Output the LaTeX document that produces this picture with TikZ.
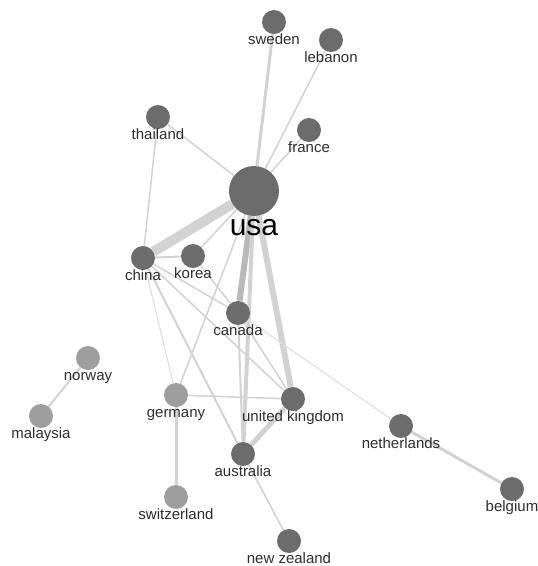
\documentclass[tikz,border=0pt]{standalone}
\usepackage{fontspec}
\setmainfont{Liberation Sans}
\usetikzlibrary{positioning}
\usetikzlibrary{backgrounds}
\usepackage{xcolor}
\definecolor{nodegray}{RGB}{108,108,108}
\definecolor{palegray}{RGB}{158,158,158}
\definecolor{linkgray}{RGB}{210,210,210}
\definecolor{faintgray}{RGB}{225,225,225}
\definecolor{darklink}{RGB}{185,185,185}
\definecolor{labelgray}{RGB}{45,45,45}

\begin{document}
\begin{tikzpicture}[x=1pt, y=-1pt,
    country/.style={circle, fill=nodegray, inner sep=0pt, minimum size=24pt},
    minor/.style={country, fill=palegray},
    lbl/.style={inner sep=0pt, text=labelgray, font=\fontsize{15}{17}\selectfont,
                text height=10.5pt, text depth=3pt},
    link/.style={draw=linkgray, line width=1.5pt}]
    \useasboundingbox (0,0) rectangle (538,566);

    % countries
    \draw node[country, minimum size=50pt] (usa) at (254,191) {};
    \draw node[country] (sweden) at (274,22) {};
    \draw node[country] (lebanon) at (331,40) {};
    \draw node[country] (thailand) at (158,117) {};
    \draw node[country] (france) at (309,130) {};
    \draw node[country] (china) at (143,258) {};
    \draw node[country] (korea) at (193,256) {};
    \draw node[country] (canada) at (238,313) {};
    \draw node[minor] (norway) at (88,358) {};
    \draw node[minor] (malaysia) at (41,416) {};
    \draw node[minor] (germany) at (176,395) {};
    \draw node[country] (uk) at (293,399) {};
    \draw node[country] (australia) at (243,454) {};
    \draw node[minor] (switzerland) at (176,497) {};
    \draw node[country] (nz) at (289,541) {};
    \draw node[country] (netherlands) at (401,426) {};
    \draw node[country] (belgium) at (512,489) {};

    % labels
    \draw node[below=3pt of usa, inner sep=0pt, text=black,
               font=\fontsize{30}{32}\selectfont] (usa-l) {usa};
    \draw node[lbl, below=0pt of sweden] (sweden-l) {sweden};
    \draw node[lbl, below=0pt of lebanon] (lebanon-l) {lebanon};
    \draw node[lbl, below=0pt of thailand] (thailand-l) {thailand};
    \draw node[lbl, below=0pt of france] (france-l) {france};
    \draw node[lbl, below=0pt of china] (china-l) {china};
    \draw node[lbl, below=0pt of korea] (korea-l) {korea};
    \draw node[lbl, below=0pt of canada] (canada-l) {canada};
    \draw node[lbl, below=0pt of norway] (norway-l) {norway};
    \draw node[lbl, below=0pt of malaysia] (malaysia-l) {malaysia};
    \draw node[lbl, below=0pt of germany] (germany-l) {germany};
    \draw node[lbl, below=0pt of uk] (uk-l) {united kingdom};
    \draw node[lbl, below=0pt of australia] (australia-l) {australia};
    \draw node[lbl, below=0pt of switzerland] (switzerland-l) {switzerland};
    \draw node[lbl, below=0pt of nz] (nz-l) {new zealand};
    \draw node[lbl, below=0pt of netherlands] (netherlands-l) {netherlands};
    \draw node[lbl, below=0pt of belgium] (belgium-l) {belgium};

    % links
    \begin{scope}[on background layer]
    \draw[link, line width=10pt](usa) edge (china);
    \draw[link, draw=darklink, line width=6pt](usa) edge (canada);
    \draw[link, line width=6pt](usa) edge (uk);
    \draw[link, line width=4pt](usa) edge (australia);
    \draw[link, line width=3pt](usa) edge (sweden);
    \draw[link](usa) edge (lebanon);
    \draw[link](usa) edge (france);
    \draw[link](usa) edge (thailand);
    \draw[link](usa) edge (korea);
    \draw[link](usa) edge (germany);
    \draw[link](thailand) edge (china);
    \draw[link, line width=2pt](china) edge (korea);
    \draw[link](china) edge (canada);
    \draw[link](korea) edge (canada);
    \draw[link](china) edge (uk);
    \draw[link, line width=2pt](china) edge (australia);
    \draw[link, draw=faintgray, line width=1.2pt](china) edge (germany);
    \draw[link](canada) edge (uk);
    \draw[link, line width=2pt](canada) edge (australia);
    \draw[link, draw=faintgray, line width=1.2pt](canada) edge (netherlands);
    \draw[link](germany) edge (uk);
    \draw[link, line width=3pt](germany) edge (switzerland);
    \draw[link, line width=5pt](australia) edge (uk);
    \draw[link](australia) edge (nz);
    \draw[link, line width=3pt](netherlands) edge (belgium);
    \draw[link, line width=2pt](norway) edge (malaysia);
    \end{scope}
\end{tikzpicture}
\end{document}
